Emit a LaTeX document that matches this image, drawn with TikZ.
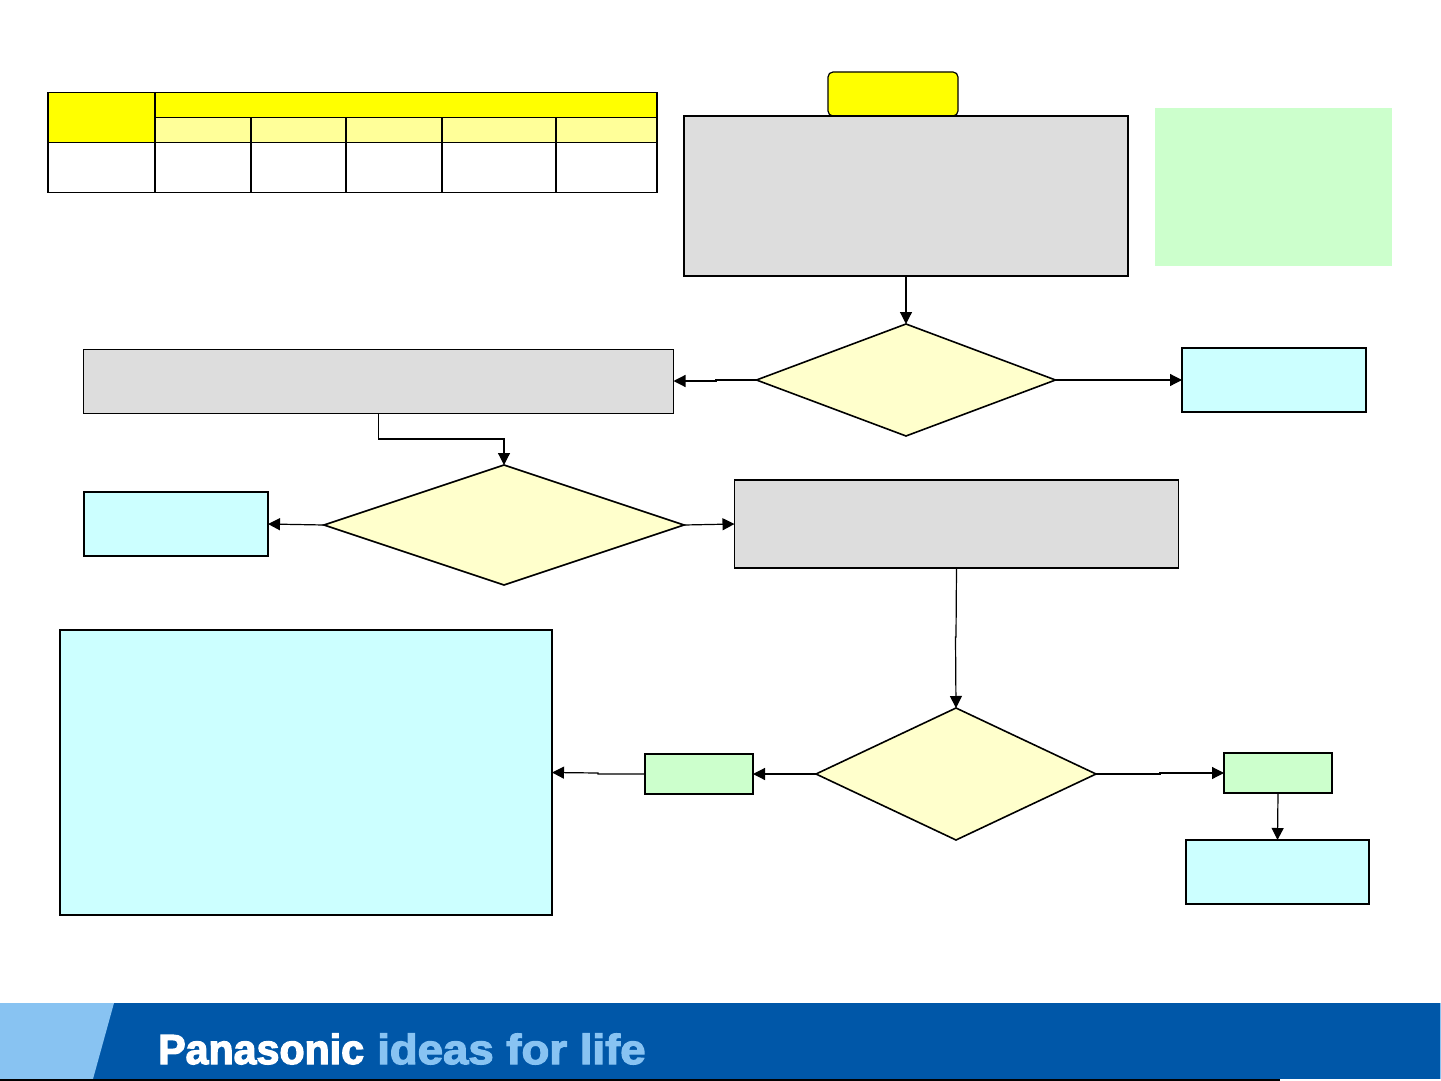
\documentclass[tikz,border=0pt]{standalone}
\usepackage{fontspec}
\newfontfamily\brandfont[FakeBold=3,FakeStretch=0.98]{Liberation Sans Bold}
\newfontfamily\sloganfont[FakeBold=3,FakeStretch=1.085]{Liberation Sans Bold}
\usetikzlibrary{positioning, arrows.meta, shapes.geometric}

\definecolor{graybox}{HTML}{DDDDDD}
\definecolor{cyanbox}{HTML}{CCFFFF}
\definecolor{greenbox}{HTML}{CCFFCC}
\definecolor{paleyellow}{HTML}{FFFFCC}
\definecolor{headyellow}{HTML}{FFFF99}
\definecolor{fullyellow}{HTML}{FFFF00}
\definecolor{bandblue}{HTML}{0057A8}
\definecolor{lightblue}{HTML}{88C3F2}

\begin{document}
\begin{tikzpicture}[x=1pt,y=-1pt,>={Triangle[length=12pt,width=12pt]}]
    \tikzstyle{block} = [rectangle,inner sep=0pt,outer sep=0pt,draw=black,line width=1.6pt]
    \tikzstyle{grey} = [block,fill=graybox]
    \tikzstyle{cyan} = [block,fill=cyanbox]
    \tikzstyle{green} = [block,fill=greenbox,line width=1.2pt]
    \tikzstyle{cell} = [block,line width=1.2pt,fill=white]
    \tikzstyle{head} = [cell,fill=fullyellow]
    \tikzstyle{sub} = [cell,fill=headyellow]
    \tikzstyle{decision} = [diamond,inner sep=0pt,outer sep=0pt,draw=black,line width=1.6pt,fill=paleyellow]
    \tikzstyle{line} = [line width=1.2pt]

    \useasboundingbox (0,0) rectangle (1441,1081);

    % table
    \node (tabcorner) [head, minimum width=107pt, minimum height=50pt] at (101.5,117.5) {};
    \node (tabtop) [head, minimum width=502pt, minimum height=25pt] at (406,105) {};
    \node (taba) [sub, minimum width=96pt, minimum height=25pt] at (203,130) {};
    \node (tabb) [sub, minimum width=95pt, minimum height=25pt] at (298.5,130) {};
    \node (tabc) [sub, minimum width=96pt, minimum height=25pt] at (394,130) {};
    \node (tabd) [sub, minimum width=114pt, minimum height=25pt] at (499,130) {};
    \node (tabe) [sub, minimum width=101pt, minimum height=25pt] at (606.5,130) {};
    \node (rowcorner) [cell, minimum width=107pt, minimum height=50pt] at (101.5,167.5) {};
    \node (rowa) [cell, minimum width=96pt, minimum height=50pt] at (203,167.5) {};
    \node (rowb) [cell, minimum width=95pt, minimum height=50pt] at (298.5,167.5) {};
    \node (rowc) [cell, minimum width=96pt, minimum height=50pt] at (394,167.5) {};
    \node (rowd) [cell, minimum width=114pt, minimum height=50pt] at (499,167.5) {};
    \node (rowe) [cell, minimum width=101pt, minimum height=50pt] at (606.5,167.5) {};

    % flow
    \node (start) [block, fill=fullyellow, line width=1.2pt, rounded corners=5pt, minimum width=130pt, minimum height=44pt] at (893,94) {};
    \node (check) [grey, minimum width=444pt, minimum height=160pt] at (906,196) {};
    \node (note) [rectangle, fill=greenbox, inner sep=0pt, minimum width=237pt, minimum height=158pt] at (1273.5,187) {};

    \node (askone) [decision, minimum width=299pt, minimum height=112pt] at (906,380) {};
    \node (stepone) [grey, line width=1pt, minimum width=590pt, minimum height=64pt] at (378.5,381) {};
    \node (endone) [cyan, minimum width=184pt, minimum height=64pt] at (1274,380) {};

    \node (asktwo) [decision, minimum width=360pt, minimum height=120pt] at (504,525) {};
    \node (endtwo) [cyan, minimum width=184pt, minimum height=64pt] at (176,524) {};
    \node (steptwo) [grey, line width=1.2pt, minimum width=444pt, minimum height=88pt] at (956.5,524) {};

    \node (askthree) [decision, minimum width=280pt, minimum height=132pt] at (956,774) {};
    \node (resno) [green, minimum width=108pt, minimum height=40pt] at (699,774) {};
    \node (resyes) [green, minimum width=108pt, minimum height=40pt] at (1278,773) {};
    \node (endbig) [cyan, minimum width=492pt, minimum height=285pt] at (306,772.5) {};
    \node (endthree) [cyan, minimum width=183pt, minimum height=64pt] at (1277.5,872) {};

    \draw [->,line] (check.south) -- (askone.north);
    \draw [->,line] (askone.west) -- (716,380) -- (716,381) -- (stepone.east);
    \draw [->,line] (askone.east) -- (endone.west);
    \draw [->,line] (stepone.south) -- (378.5,439) -- (504,439) -- (asktwo.north);
    \draw [->,line] (asktwo.west) -- (endtwo.east);
    \draw [->,line] (asktwo.east) -- (steptwo.west);
    \draw [->,line] (steptwo.south) -- (956,637) -- (955.5,637) -- (askthree.north);
    \draw [->,line] (askthree.west) -- (resno.east);
    \draw [->,line] (resno.west) -- (598,774) -- (598,773) -- (endbig.east);
    \draw [->,line] (askthree.east) -- (1160,774) -- (1160,773) -- (resyes.west);
    \draw [->,line] (resyes.south) -- (endthree.north);

    % footer
    \fill [bandblue] (0,1003) rectangle (1441,1079);
    \fill [lightblue] (0,1003) -- (114,1003) -- (93,1079) -- (0,1079) -- cycle;
    \fill [lightblue] (1440,1003) rectangle (1441,1079);
    \fill [black] (0,1079) rectangle (1280,1081);
    \node (brand) [anchor=base west, inner sep=0pt, text=white, font=\brandfont\fontsize{42}{42}\selectfont] at (158,1064) {Panasonic};
    \node (slogan) [anchor=base west, inner sep=0pt, text=lightblue, font=\sloganfont\fontsize{42}{42}\selectfont] at (377,1064) {ideas for life};
\end{tikzpicture}
\end{document}
